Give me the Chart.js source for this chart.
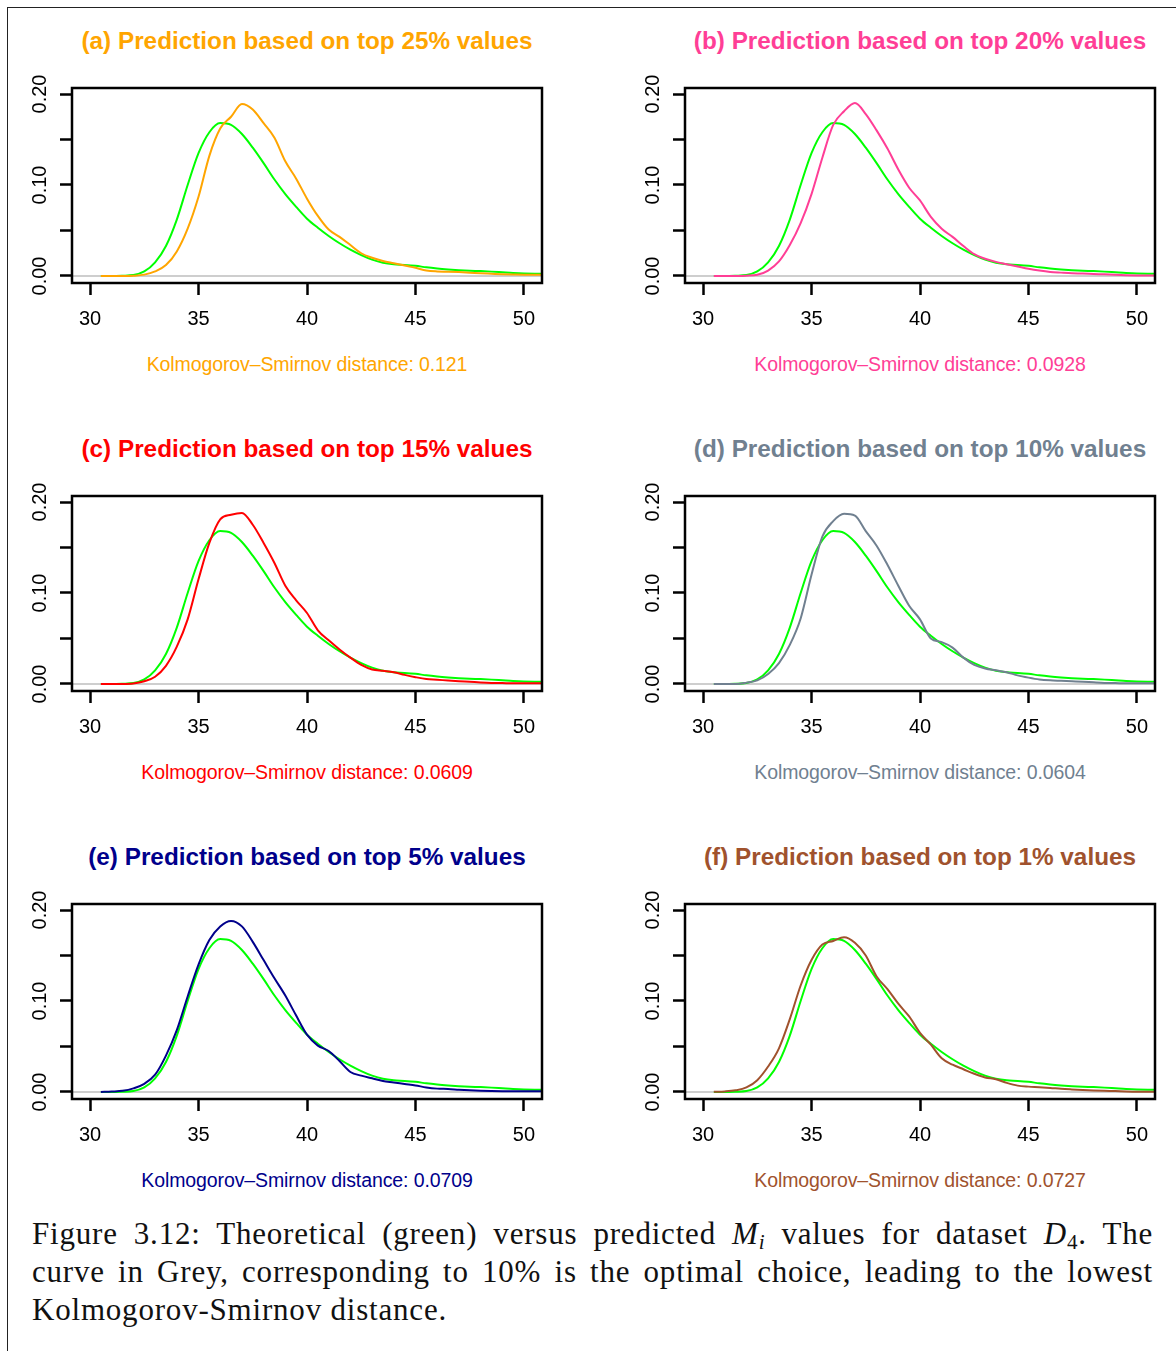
<!doctype html>
<html lang="en">
<head>
<meta charset="utf-8">
<title>Theoretical versus predicted Mi values</title>
<style>
  * { margin: 0; padding: 0; }
  body {
    width: 1176px; height: 1351px; position: relative; overflow: hidden;
    background: #fff; font-family: "Liberation Sans", Arial, sans-serif;
  }
  .frame {
    position: absolute; left: 7px; top: 7px; width: 1200px; height: 1400px;
    border-left: 1.5px solid #222; border-top: 1.5px solid #222;
  }
  .title {
    position: absolute; width: 560px; text-align: center;
    font-weight: bold; font-size: 24.3px; line-height: 30px; white-space: nowrap;
  }
  .ks {
    position: absolute; width: 560px; text-align: center;
    font-size: 19.5px; line-height: 26px; white-space: nowrap; letter-spacing: -0.1px;
  }
  canvas { position: absolute; }
  .caption {
    position: absolute; left: 32px; top: 1215px; width: 1121px;
    font-family: "Liberation Serif", "Times New Roman", serif;
    font-size: 31px; letter-spacing: 0.8px; color: #111;
  }
  .caption div { height: 38px; line-height: 38px; white-space: nowrap; }
  .caption .j { text-align: justify; text-align-last: justify; }
  .caption sub { font-size: 68%; line-height: 0; vertical-align: -0.25em; }
  .caption sub.n { font-style: normal; }
</style>
</head>
<body>
<div class="frame"></div>
<div id="panels"></div>
<div class="caption">
  <div class="j">Figure 3.12: Theoretical (green) versus predicted <i>M<sub>i</sub></i> values for dataset <i>D</i><sub class="n">4</sub>. The</div>
  <div class="j">curve in Grey, corresponding to 10% is the optimal choice, leading to the lowest</div>
  <div>Kolmogorov-Smirnov distance.</div>
</div>
<script src="https://cdn.jsdelivr.net/npm/chart.js/dist/chart.umd.min.js"></script>
<script>
// x grid of the density estimates
const XS = [30.5, 31, 31.5, 32, 32.5, 33, 33.5, 34, 34.5, 35, 35.5, 36, 36.5, 37, 37.5, 38, 38.5, 39, 39.5, 40,
            40.5, 41, 41.5, 42, 42.5, 43, 43.5, 44, 44.5, 45, 45.5, 46, 46.5, 47, 47.5, 48, 48.5, 49, 49.5, 50, 50.5, 51];

// theoretical density (green), same in every panel
const GREEN = [0, 0, 0.0003, 0.001, 0.005, 0.015, 0.033, 0.062, 0.100, 0.135, 0.158, 0.168, 0.166, 0.156, 0.141, 0.124, 0.106, 0.090, 0.076, 0.063,
               0.053, 0.044, 0.036, 0.029, 0.023, 0.018, 0.0145, 0.0128, 0.0122, 0.0112, 0.0095, 0.0082, 0.0072, 0.0064, 0.0058, 0.0054, 0.0048, 0.004, 0.0032, 0.0027, 0.0026, 0.0026];

// predicted densities
const TOP25 = [0, 0, 0, 0.0003, 0.0015, 0.005, 0.012, 0.027, 0.052, 0.087, 0.132, 0.162, 0.175, 0.189, 0.183, 0.168, 0.152, 0.126, 0.107, 0.085,
               0.066, 0.051, 0.043, 0.034, 0.025, 0.020, 0.0165, 0.014, 0.0115, 0.009, 0.006, 0.005, 0.0047, 0.0043, 0.0037, 0.003, 0.0025, 0.002, 0.0017, 0.0015, 0.0015, 0.0015];
const TOP20 = [0, 0, 0, 0.0003, 0.0013, 0.006, 0.016, 0.034, 0.058, 0.090, 0.130, 0.166, 0.181, 0.190, 0.178, 0.160, 0.140, 0.117, 0.097, 0.083,
               0.065, 0.052, 0.043, 0.033, 0.024, 0.019, 0.0155, 0.013, 0.0105, 0.008, 0.006, 0.0045, 0.0037, 0.003, 0.0027, 0.0022, 0.0018, 0.0013, 0.0009, 0.0006, 0.0005, 0.0005];
const TOP15 = [0, 0, 0, 0.0005, 0.003, 0.008, 0.020, 0.041, 0.071, 0.115, 0.155, 0.181, 0.186, 0.188, 0.175, 0.155, 0.133, 0.108, 0.092, 0.078,
               0.059, 0.048, 0.038, 0.029, 0.021, 0.016, 0.0145, 0.013, 0.010, 0.0075, 0.0055, 0.0047, 0.0038, 0.003, 0.0024, 0.0017, 0.0012, 0.001, 0.0008, 0.0007, 0.0007, 0.0007];
const TOP10 = [0, 0, 0, 0.0015, 0.004, 0.011, 0.023, 0.043, 0.072, 0.120, 0.162, 0.179, 0.187, 0.185, 0.168, 0.152, 0.131, 0.108, 0.086, 0.071,
               0.050, 0.046, 0.040, 0.029, 0.021, 0.017, 0.015, 0.013, 0.0095, 0.007, 0.005, 0.004, 0.0035, 0.003, 0.0025, 0.0018, 0.0012, 0.001, 0.0008, 0.0007, 0.0007, 0.0007];
const TOP5  = [0, 0.0005, 0.0013, 0.004, 0.009, 0.019, 0.040, 0.068, 0.105, 0.140, 0.167, 0.182, 0.188, 0.182, 0.165, 0.145, 0.125, 0.106, 0.084, 0.063,
               0.051, 0.045, 0.034, 0.022, 0.018, 0.015, 0.012, 0.0105, 0.0088, 0.0072, 0.005, 0.0037, 0.0033, 0.0025, 0.0018, 0.0013, 0.001, 0.0008, 0.0007, 0.0007, 0.0007, 0.0007];
const TOP1  = [0.0002, 0.0006, 0.0018, 0.005, 0.013, 0.028, 0.048, 0.080, 0.117, 0.145, 0.162, 0.166, 0.170, 0.164, 0.150, 0.127, 0.113, 0.097, 0.083, 0.065,
               0.052, 0.037, 0.030, 0.025, 0.020, 0.016, 0.014, 0.010, 0.007, 0.0059, 0.0053, 0.0045, 0.0035, 0.0028, 0.0022, 0.0017, 0.0013, 0.001, 0.0006, 0.0004, 0.0004, 0.0004];

const X_TICKS = [30, 35, 40, 45, 50];
const Y_TICKS = [0, 0.05, 0.10, 0.15, 0.20];
const Y_LABELS = ['0.00', '0.10', '0.20'];
const Y_LABEL_AT = [0, 0.10, 0.20];

const TITLES = ['(a) Prediction based on top 25% values', '(b) Prediction based on top 20% values',
                '(c) Prediction based on top 15% values', '(d) Prediction based on top 10% values',
                '(e) Prediction based on top 5% values', '(f) Prediction based on top 1% values'];
const KS = ['0.121', '0.0928', '0.0609', '0.0604', '0.0709', '0.0727'];
const SERIES = [TOP25, TOP20, TOP15, TOP10, TOP5, TOP1];
const COLORS = ['#FFA500', '#FF3E96', '#FF0000', '#708090', '#00008B', '#A0522D'];
const THEO_COLOR = '#00FF00';

Chart.defaults.font.family = '"Liberation Sans", Arial, sans-serif';

// R-like frame: zero line, box and rotated y labels
const rFrame = {
  id: 'rFrame',
  beforeDatasetsDraw(chart) {
    const { ctx, chartArea: a, scales: { y } } = chart;
    const y0 = y.getPixelForValue(0);
    ctx.save();
    ctx.strokeStyle = '#bebebe';
    ctx.lineWidth = 1.5;
    ctx.beginPath();
    ctx.moveTo(a.left, y0);
    ctx.lineTo(a.right, y0);
    ctx.stroke();
    ctx.restore();
  },
  afterDraw(chart) {
    const { ctx, chartArea: a, scales: { y } } = chart;
    ctx.save();
    ctx.strokeStyle = '#000';
    ctx.lineWidth = 2.5;
    ctx.strokeRect(a.left, a.top, a.right - a.left, a.bottom - a.top);
    ctx.fillStyle = '#000';
    ctx.font = '20px "Liberation Sans", Arial, sans-serif';
    ctx.textAlign = 'center';
    ctx.textBaseline = 'alphabetic';
    Y_LABEL_AT.forEach((v, i) => {
      ctx.save();
      ctx.translate(a.left - 26, y.getPixelForValue(v));
      ctx.rotate(-Math.PI / 2);
      ctx.fillText(Y_LABELS[i], 0, 0);
      ctx.restore();
    });
    ctx.restore();
  }
};

const panels = document.getElementById('panels');

SERIES.forEach((vals, k) => {
  const col = k % 2, row = Math.floor(k / 2);
  const boxLeft = 72 + col * 613;
  const boxTop = 88 + row * 408;

  const title = document.createElement('div');
  title.className = 'title';
  title.style.left = (boxLeft - 45) + 'px';
  title.style.top = (26 + row * 408) + 'px';
  title.style.color = COLORS[k];
  title.textContent = TITLES[k];
  panels.appendChild(title);

  const ks = document.createElement('div');
  ks.className = 'ks';
  ks.style.left = (boxLeft - 45) + 'px';
  ks.style.top = (351 + row * 408) + 'px';
  ks.style.color = COLORS[k];
  ks.textContent = 'Kolmogorov\u2013Smirnov distance: ' + KS[k];
  panels.appendChild(ks);

  const canvas = document.createElement('canvas');
  canvas.width = 562;
  canvas.height = 270;
  canvas.style.left = (boxLeft - 72) + 'px';
  canvas.style.top = (boxTop - 18) + 'px';
  panels.appendChild(canvas);

  new Chart(canvas, {
    type: 'line',
    data: {
      datasets: [{
        data: XS.map((x, i) => ({ x, y: vals[i] })),
        borderColor: COLORS[k],
        borderWidth: 2,
        pointRadius: 0,
        cubicInterpolationMode: 'monotone',
        fill: false
      }, {
        data: XS.map((x, i) => ({ x, y: GREEN[i] })),
        borderColor: THEO_COLOR,
        borderWidth: 2,
        pointRadius: 0,
        cubicInterpolationMode: 'monotone',
        fill: false
      }]
    },
    options: {
      responsive: false,
      animation: false,
      devicePixelRatio: 1,
      layout: { padding: { left: 0, top: 18, right: 20, bottom: 0 } },
      plugins: { legend: { display: false }, tooltip: { enabled: false } },
      scales: {
        x: {
          type: 'linear',
          min: 29.17,
          max: 50.83,
          afterBuildTicks: s => { s.ticks = X_TICKS.map(v => ({ value: v })); },
          afterFit: s => { s.height = 57; },
          border: { display: false },
          grid: { drawOnChartArea: false, drawTicks: true, tickLength: 12, tickWidth: 2.5, tickColor: '#000' },
          ticks: { color: '#000', font: { size: 20 }, padding: 12, maxRotation: 0, autoSkip: false,
                   callback: v => String(v) }
        },
        y: {
          type: 'linear',
          min: -0.0077,
          max: 0.2066,
          afterBuildTicks: s => { s.ticks = Y_TICKS.map(v => ({ value: v })); },
          afterFit: s => { s.width = 72; },
          border: { display: false },
          grid: { drawOnChartArea: false, drawTicks: true, tickLength: 12, tickWidth: 2.5, tickColor: '#000' },
          ticks: { display: false }
        }
      }
    },
    plugins: [rFrame]
  });
});
</script>
</body>
</html>
